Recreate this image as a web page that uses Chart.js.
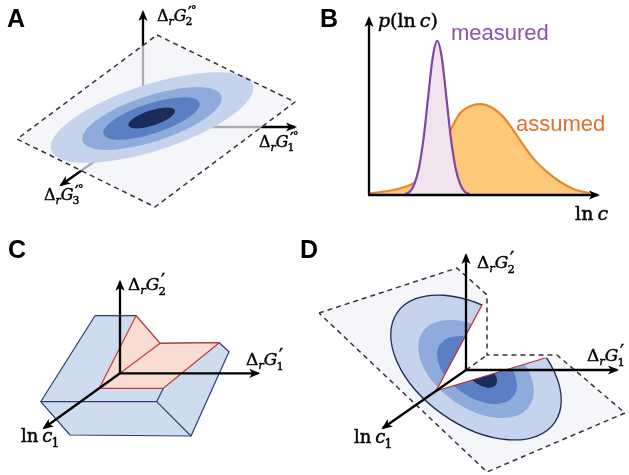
<!DOCTYPE html>
<html>
<head>
<meta charset="utf-8">
<script src="https://cdn.jsdelivr.net/npm/chart.js@4.4.1/dist/chart.umd.min.js"></script>
<style>
  html, body { margin: 0; padding: 0; background: #fff; }
  #fig { position: relative; width: 629px; height: 475px; overflow: hidden; }
  #fig canvas { position: absolute; }
</style>
</head>
<body>
<div id="fig">
  <canvas id="panelA" width="320" height="230" style="left:0;top:0"></canvas>
  <canvas id="panelB" width="309" height="230" style="left:320px;top:0"></canvas>
  <canvas id="panelC" width="300" height="245" style="left:0;top:230px"></canvas>
  <canvas id="panelD" width="329" height="245" style="left:300px;top:230px"></canvas>
</div>
<script>
// ---- Panel A: Gaussian contours on the reaction-energy plane ----
const planeA = [[157, 35], [295, 102], [155, 207], [17, 139]]
const originA = [143, 127]
const tipsA = [[143, 12], [295, 127], [61, 185]]
// [cx, cy, semi-major, semi-minor, tilt in degrees]
const contoursA = [[152, 117.5, 106, 33, -18], [152, 118.5, 73, 23, -18], [151.5, 118.5, 50.5, 15, -18], [151.7, 118, 24.5, 7.5, -18]]

// ---- Panel B: concentration distributions ----
const measuredX = [1.58, 1.78, 1.98, 2.18, 2.38, 2.58, 2.78, 2.98, 3.18, 3.38, 3.58, 3.78, 3.98, 4.18, 4.38]
const measuredY = [0, 0.015, 0.065, 0.17, 0.36, 0.63, 0.89, 1, 0.89, 0.63, 0.36, 0.17, 0.065, 0.015, 0]
const assumedX = [0, 1.06, 1.79, 2.15, 2.66, 3.10, 3.46, 3.97, 4.41, 4.85, 5.43, 5.86, 6.30, 6.74, 7.17, 7.76, 8.34, 8.92, 9.65]
const assumedY = [0.003, 0.026, 0.059, 0.091, 0.17, 0.29, 0.39, 0.526, 0.574, 0.587, 0.559, 0.504, 0.417, 0.32, 0.233, 0.146, 0.08, 0.033, 0.005]

// ---- Panel C: feasible polytope ----
const slabC = [[95, 315.7], [136, 315.7], [160, 343.3], [219.3, 342.7], [229, 351.7], [191, 436], [70, 435], [40.7, 401.7]]
const slabEdgesC = [[[40.7, 401.7], [156.7, 401.7], [191, 436]], [[156.7, 401.7], [163.3, 388.3]]]
const feasibleC = [[136, 315.7], [160, 343.3], [219.3, 342.7], [163.3, 388.3], [99.3, 388.3]]
const foldC = [[120, 373.3], [160, 343.3]]
const originC = [120, 373.3]
const tipsC = [[120, 281.7], [258.3, 373.3], [44, 428]]

// ---- Panel D: truncated contours ----
const planeD = [[319, 313], [457, 268], [487, 295], [487, 355], [557, 355], [625, 413], [487, 472]]
const cutD = [[436, 391], [482, 305], [545, 358]]   // apex, upper end, right end
const hiddenD = [[466, 370], [487, 355]]
const contoursD = [[476, 367.5, 96, 57.5, 35], [476, 369, 65, 39, 35], [477, 370, 45, 27, 35], [482, 375, 17, 10, 35]]
const originD = [466, 370]
const tipsD = [[466, 255], [617, 370], [383, 428]]

const contourColors = ["#c5d4ec", "#8eabdb", "#5a7fc3", "#1b2c5a"]

const MATH_FONT = '"DejaVu Serif", serif'
const LETTER_FONT = 'bold 25px "Liberation Sans", Arial, sans-serif'
const dG = (sub, sup) => [{ t: "Δ" }, { t: "r", it: true, sub: true }, { t: "G", it: true }, { sup, sub }]
const lnc1 = [{ t: "ln", gap: 4 }, { t: "c", it: true }, { sub: "1" }]

function setFont(ctx, size, italic) {
  ctx.font = (italic ? "italic " : "") + size + "px " + MATH_FONT
}

// fill plus a hairline stroke, to get the weight of the typeset labels
function ink(ctx, text, x, y) {
  ctx.fillText(text, x, y)
  ctx.strokeText(text, x, y)
}

function drawMath(ctx, x, y, size, parts) {
  let cx = x
  const small = size * 0.68
  ctx.lineWidth = 0.45
  ctx.strokeStyle = ctx.fillStyle
  for (const p of parts) {
    if (p.t === undefined) {
      let w = 0
      if (p.sup) {
        let sx = cx + 1.5
        for (const ch of p.sup) {
          if (ch === "′") {
            setFont(ctx, size * 1.05, false)
            ink(ctx, ch, sx, y - size * 0.2)
          } else {
            setFont(ctx, small, false)
            ink(ctx, ch, sx, y - size * 0.42)
          }
          sx += ctx.measureText(ch).width * (ch === "′" ? 0.75 : 1)
        }
        w = sx - cx
      }
      if (p.sub) {
        setFont(ctx, small, false)
        ink(ctx, p.sub, cx - 1, y + size * 0.27)
        w = Math.max(w, ctx.measureText(p.sub).width - 1)
      }
      cx += w
    } else if (p.sub) {
      setFont(ctx, small, p.it)
      ink(ctx, p.t, cx, y + size * 0.25)
      cx += ctx.measureText(p.t).width
    } else {
      setFont(ctx, size, p.it)
      ink(ctx, p.t, cx, y)
      cx += ctx.measureText(p.t).width + (p.gap || 0)
    }
  }
}

const labelPlugin = {
  id: "labels",
  afterDraw(chart, args, opts) {
    const { ctx, scales: { x, y } } = chart
    ctx.save()
    ctx.textBaseline = "alphabetic"
    for (const l of opts.items || []) {
      const px = x.getPixelForValue(l.at[0])
      const py = y.getPixelForValue(l.at[1])
      ctx.fillStyle = l.color || "#000"
      if (l.parts) {
        drawMath(ctx, px, py, l.size, l.parts)
      } else {
        ctx.font = l.font
        ctx.fillText(l.text, px, py)
      }
    }
    ctx.restore()
  }
}

function arrowHead(ctx, ax, ay, bx, by, color) {
  const ang = Math.atan2(by - ay, bx - ax)
  const c = Math.cos(ang), s = Math.sin(ang)
  const tx = bx + 2 * c, ty = by + 2 * s
  const len = 11, half = 4.6
  ctx.save()
  ctx.fillStyle = color
  ctx.beginPath()
  ctx.moveTo(tx, ty)
  ctx.lineTo(tx - len * c + half * s, ty - len * s - half * c)
  ctx.lineTo(tx - len * 0.75 * c, ty - len * 0.75 * s)
  ctx.lineTo(tx - len * c - half * s, ty - len * s + half * c)
  ctx.closePath()
  ctx.fill()
  ctx.restore()
}

const arrowPlugin = {
  id: "arrows",
  afterDatasetDraw(chart, args) {
    const ds = chart.data.datasets[args.index]
    if (!ds.arrow) return
    const p = args.meta.data
    const a = p[p.length - 2], b = p[p.length - 1]
    arrowHead(chart.ctx, a.x, a.y, b.x, b.y, ds.borderColor)
  }
}

const contourPlugin = {
  id: "contours",
  afterDatasetDraw(chart, args, opts) {
    if (opts.after === undefined || args.index !== opts.after) return
    const { ctx, scales: { x, y } } = chart
    const sx = Math.abs(x.getPixelForValue(1) - x.getPixelForValue(0))
    const sy = Math.abs(y.getPixelForValue(1) - y.getPixelForValue(0))
    ctx.save()
    if (opts.clip) {
      ctx.beginPath()
      opts.clip.forEach(([u, v], i) => {
        const px = x.getPixelForValue(u), py = y.getPixelForValue(v)
        i ? ctx.lineTo(px, py) : ctx.moveTo(px, py)
      })
      ctx.closePath()
      ctx.clip()
    }
    opts.items.forEach(([cx, cy, a, b, deg], i) => {
      ctx.beginPath()
      ctx.ellipse(x.getPixelForValue(cx), y.getPixelForValue(cy), a * sx, b * sy, deg * Math.PI / 180, 0, Math.PI * 2)
      ctx.fillStyle = opts.colors[i]
      ctx.fill()
      if (i === 0 && opts.outline) {
        ctx.strokeStyle = opts.outline
        ctx.lineWidth = 1.3
        ctx.stroke()
      }
    })
    ctx.restore()
  }
}

const pts = arr => arr.map(([x, y]) => ({ x, y }))
const closed = arr => pts([...arr, arr[0]])

function shape(arr, fillColor, borderColor, width = 0, dash = []) {
  return {
    data: closed(arr), showLine: true, fill: fillColor ? "shape" : false,
    backgroundColor: fillColor || "transparent", borderColor: borderColor || "transparent",
    borderWidth: width, borderDash: dash, borderJoinStyle: "round",
    pointRadius: 0, tension: 0, clip: false
  }
}

function segment(arr, color, width, extra = {}) {
  return {
    data: pts(arr), showLine: true, fill: false, borderColor: color, borderWidth: width,
    pointRadius: 0, tension: 0, clip: false, borderJoinStyle: "round", ...extra
  }
}

const axes = (origin, tips) => tips.map(t => segment([origin, t], "#000", 2.3, { arrow: true }))

// datasets are listed bottom to top; Chart.js draws higher "order" first
function layered(list) {
  list.forEach((ds, i) => { ds.order = list.length - i })
  return list
}

function diagram(id, box, datasets, plugins) {
  return new Chart(document.getElementById(id), {
    type: "scatter",
    data: { datasets: layered(datasets) },
    options: {
      responsive: false,
      animation: false,
      events: [],
      layout: { padding: 0 },
      scales: {
        x: { type: "linear", min: box[0], max: box[2], display: false },
        y: { type: "linear", min: box[1], max: box[3], reverse: true, display: false }
      },
      plugins: { legend: { display: false }, tooltip: { enabled: false }, ...plugins }
    },
    plugins: [contourPlugin, arrowPlugin, labelPlugin]
  })
}

// Panel A
const dsA = [
  ...axes(originA, tipsA),
  shape(planeA, "rgba(241, 243, 247, 0.71)"),
  shape(planeA, null, "#333", 1.5, [5, 4])
]
diagram("panelA", [0, 0, 320, 230], dsA, {
  contours: { after: 3, items: contoursA, colors: contourColors },
  labels: { items: [
    { at: [7, 27], text: "A", font: LETTER_FONT },
    { at: [157, 21], size: 16, parts: dG("2", "′°") },
    { at: [259, 147], size: 16, parts: dG("1", "′°") },
    { at: [44, 200], size: 16, parts: dG("3", "′°") }
  ] }
})

// Panel B
new Chart(document.getElementById("panelB"), {
  type: "scatter",
  data: {
    datasets: [
      {
        label: "measured",
        data: measuredX.map((x, i) => ({ x, y: measuredY[i] })),
        showLine: true, fill: "origin",
        backgroundColor: "#f2e3ef", borderColor: "#7f47a2", borderWidth: 2.2,
        pointRadius: 0, cubicInterpolationMode: "monotone"
      },
      {
        label: "assumed",
        data: assumedX.map((x, i) => ({ x, y: assumedY[i] })),
        showLine: true, fill: "origin",
        backgroundColor: "#fdc878", borderColor: "#e08a2c", borderWidth: 2.2,
        pointRadius: 0, cubicInterpolationMode: "monotone"
      }
    ]
  },
  options: {
    responsive: false,
    animation: false,
    events: [],
    layout: { padding: { left: 49, right: 31, top: 18, bottom: 36 } },
    scales: {
      x: { type: "linear", min: 0, max: 10, display: false },
      y: { type: "linear", min: 0, max: 1.15, display: false }
    },
    plugins: {
      legend: { display: false },
      tooltip: { enabled: false },
      labels: { items: [
        { at: [-2.14, 1.091], text: "B", font: LETTER_FONT },
        { at: [0.39, 1.091], size: 19, parts: [{ t: "p", it: true }, { t: "(ln", gap: 4 }, { t: "c", it: true }, { t: ")" }] },
        { at: [3.58, 1.006], text: "measured", font: '22px "Liberation Sans", Arial, sans-serif', color: "#8b52b0" },
        { at: [6.42, 0.412], text: "assumed", font: '22px "Liberation Sans", Arial, sans-serif', color: "#e0702a" },
        { at: [9.0, -0.17], size: 19, parts: [{ t: "ln", gap: 4 }, { t: "c", it: true }] }
      ] }
    }
  },
  plugins: [labelPlugin, {
    id: "axisArrows",
    afterDatasetsDraw(chart) {
      const { ctx, chartArea: { left, right, top, bottom } } = chart
      const base = bottom + 1
      ctx.save()
      ctx.strokeStyle = "#000"
      ctx.lineWidth = 2.3
      ctx.beginPath()
      ctx.moveTo(left, base)
      ctx.lineTo(left, top)
      ctx.moveTo(left - 1, base)
      ctx.lineTo(right, base)
      ctx.stroke()
      ctx.restore()
      arrowHead(ctx, left, base, left, top, "#000")
      arrowHead(ctx, left, base, right, base, "#000")
    }
  }]
})

// Panel C
const dsC = [
  shape(slabC, "#cddcef", "#2b3f74", 1.2),
  ...slabEdgesC.map(e => segment(e, "#2b3f74", 1.2)),
  shape(feasibleC, "#f9ddd2", "#c23b35", 1.2),
  segment(foldC, "#c23b35", 1.2),
  ...axes(originC, tipsC)
]
diagram("panelC", [0, 230, 300, 475], dsC, {
  labels: { items: [
    { at: [8, 258], text: "C", font: LETTER_FONT },
    { at: [128, 290], size: 17, parts: dG("2", "′") },
    { at: [246, 365], size: 17, parts: dG("1", "′") },
    { at: [21, 442], size: 18, parts: lnc1 }
  ] }
})

// Panel D
const planeFillD = [...planeD.slice(0, 3), [487, 303], cutD[1], cutD[0], cutD[2], ...planeD.slice(4)]
const dsD = [
  shape(planeFillD, "#f4f6f9"),
  segment([cutD[1], cutD[0], cutD[2]], "#c2302f", 1.3),
  shape(planeD, null, "#333", 1.5, [5, 4]),
  segment(hiddenD, "#333", 1.5, { borderDash: [5, 4] }),
  ...axes(originD, tipsD)
]
diagram("panelD", [300, 230, 629, 475], dsD, {
  contours: { after: 0, items: contoursD, colors: contourColors, clip: planeFillD, outline: "#1d2d5c" },
  labels: { items: [
    { at: [300, 258], text: "D", font: LETTER_FONT },
    { at: [477, 268], size: 17, parts: dG("2", "′") },
    { at: [587, 361], size: 17, parts: dG("1", "′") },
    { at: [354, 443], size: 18, parts: lnc1 }
  ] }
})
</script>
</body>
</html>
